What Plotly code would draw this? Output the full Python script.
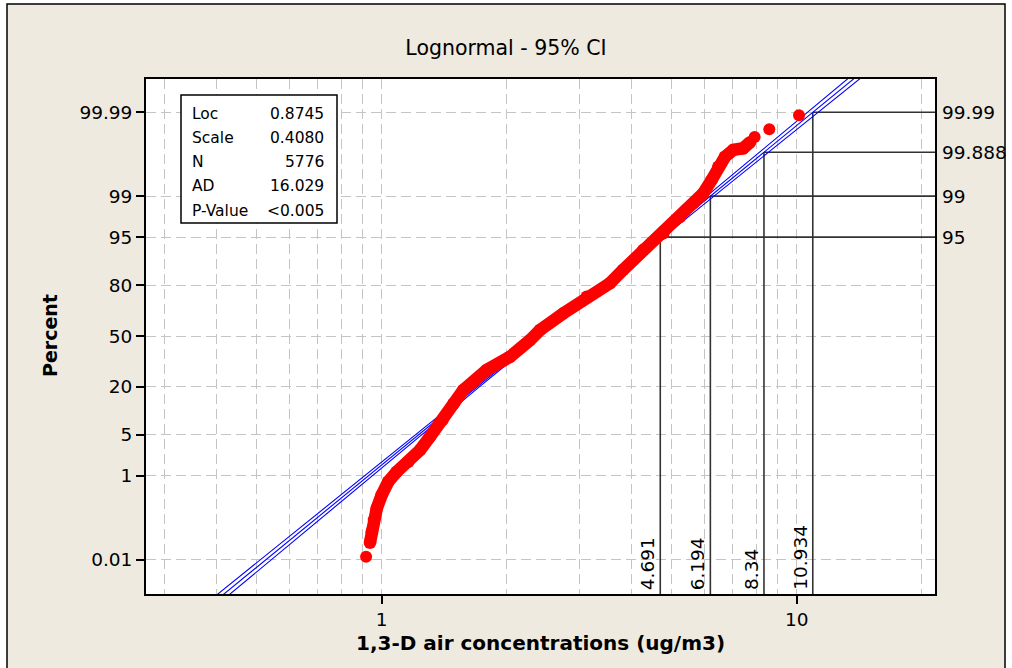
import math
from statistics import NormalDist
import plotly.graph_objects as go

# ---------------- data ----------------
stat_labels = ["Loc", "Scale", "N", "AD", "P-Value"]
stat_values = ["0.8745", "0.4080", "5776", "16.029", "<0.005"]

# observed data (dense band of overlapping points): percent, concentration
band_pct = [0.0294, 0.057, 0.111, 0.209, 0.411, 0.772, 1.20, 1.83, 2.90, 4.71,
            8.1, 13.0, 18.5, 28.6, 36.5, 47.3, 54.0, 64.7, 74.3, 81.0,
            86.4, 92.4, 95.6, 97.6, 98.63, 99.12, 99.53, 99.756, 99.856, 99.901,
            99.910, 99.936]
band_x = [0.937, 0.946, 0.958, 0.973, 1.000, 1.037, 1.087, 1.159, 1.237, 1.307,
          1.400, 1.490, 1.573, 1.791, 2.038, 2.277, 2.407, 2.739, 3.119, 3.549,
          3.815, 4.270, 4.771, 5.234, 5.633, 5.955, 6.240, 6.473, 6.718, 7.036,
          7.434, 7.718]
# isolated extreme observations
iso_pct = [0.0121, 99.953, 99.9706, 99.9879]
iso_x = [0.917, 7.92, 8.59, 10.13]

# fitted lognormal line and 95% confidence bounds
fit_pct = [0.0005, 0.01, 0.1, 1, 5, 20, 50, 80, 95, 99, 99.9, 99.99, 99.9995]
fit_x = [0.3955, 0.5258, 0.6797, 0.9282, 1.2255, 1.7008, 2.3977, 3.380, 4.691,
         6.194, 8.459, 10.934, 14.536]
ci_lo = [0.3821, 0.5105, 0.6627, 0.9096, 1.2059, 1.6801, 2.3726, 3.3389, 4.6159,
         6.0698, 8.2478, 10.615, 14.043]
ci_hi = [0.4094, 0.5416, 0.6971, 0.9472, 1.2454, 1.7218, 2.4231, 3.4216, 4.7673,
         6.3207, 8.6758, 11.263, 15.046]

# reference percentiles
ref_pct = [95, 99, 99.888, 99.99]
ref_x = [4.691, 6.194, 8.34, 10.934]
ref_pct_text = ["95", "99", "99.888", "99.99"]
ref_x_text = ["4.691", "6.194", "8.34", "10.934"]

y_tick_pct = [0.01, 1, 5, 20, 50, 80, 95, 99, 99.99]
y_tick_text = ["0.01", "1", "5", "20", "50", "80", "95", "99", "99.99"]
x_tick_vals = [1, 10]
x_minor_vals = [0.3, 0.4, 0.5, 0.6, 0.7, 0.8, 0.9, 2, 3, 4, 5, 6, 7, 8, 9, 20]

# ---------------- helpers ----------------
nd = NormalDist()


def probit(p):
    return nd.inv_cdf(p / 100.0)


FONT = "DejaVu Sans"
BEIGE = "#EEEAE0"
GRID = "#C4C4C4"
XR = [-0.568, 1.3333]
YR = [-4.289, 4.273]

fig = go.Figure()

# reference (percentile) lines
rx, ry = [], []
for p, xv in zip(ref_pct, ref_x):
    z = probit(p)
    rx += [xv, 10 ** XR[1], None, xv, xv, None]
    ry += [z, z, None, z, YR[0], None]
fig.add_trace(go.Scatter(x=rx, y=ry, mode="lines",
                         line=dict(color="#333333", width=1.6),
                         hoverinfo="skip", showlegend=False))

# fit + CI
for arr in (ci_lo, fit_x, ci_hi):
    fig.add_trace(go.Scatter(x=arr, y=[probit(p) for p in fit_pct], mode="lines",
                             line=dict(color="#0000FF", width=1.1),
                             showlegend=False))

# observed band (drawn over the fit lines)
fig.add_trace(go.Scatter(x=band_x, y=[probit(p) for p in band_pct],
                         mode="lines+markers",
                         line=dict(color="#FF0000", width=12.5),
                         marker=dict(color="#FF0000", size=12.5),
                         showlegend=False))
fig.add_trace(go.Scatter(x=iso_x, y=[probit(p) for p in iso_pct],
                         mode="markers",
                         marker=dict(color="#FF0000", size=12),
                         showlegend=False))

L, R, T, B = 146, 77, 79, 74
W, H = 1012, 668
pw, ph = W - L - R, H - T - B


def px_x(x):
    return (x - L) / pw


def px_y(y):
    return (H - B - y) / ph


shapes = [
    dict(type="rect", xref="paper", yref="paper",
         x0=px_x(7), x1=px_x(1005), y0=px_y(700), y1=px_y(4),
         fillcolor=BEIGE, line=dict(color="black", width=1.5), layer="below"),
    dict(type="rect", xref="paper", yref="paper", x0=0, x1=1, y0=0, y1=1,
         fillcolor="white", line=dict(width=0), layer="below"),
    dict(type="rect", xref="paper", yref="paper",
         x0=px_x(181), x1=px_x(337), y0=px_y(223), y1=px_y(95),
         fillcolor="white", line=dict(color="black", width=1.5), layer="above"),
]

ann = []
row_y = [113.5, 137.8, 162.1, 186.4, 210.7]
for lab, val, yy in zip(stat_labels, stat_values, row_y):
    ann.append(dict(xref="paper", yref="paper", x=px_x(190), y=px_y(yy),
                    text=lab, showarrow=False, xanchor="left", yanchor="middle",
                    font=dict(family=FONT, size=15.5, color="black")))
    ann.append(dict(xref="paper", yref="paper", x=px_x(326), y=px_y(yy),
                    text=val, showarrow=False, xanchor="right", yanchor="middle",
                    font=dict(family=FONT, size=15.5, color="black")))

for p, t in zip(ref_pct, ref_pct_text):
    ann.append(dict(xref="paper", yref="y", x=1, y=probit(p), text=t,
                    showarrow=False, xanchor="left", yanchor="middle", xshift=5,
                    font=dict(family=FONT, size=18.5, color="black")))
for xv, t in zip(ref_x, ref_x_text):
    ann.append(dict(xref="x", yref="y", x=math.log10(xv), y=YR[0], text=t,
                    showarrow=False, xanchor="right", yanchor="bottom",
                    textangle=-90, xshift=0, yshift=2,
                    font=dict(family=FONT, size=18.5, color="black")))

ann.append(dict(xref="paper", yref="paper", x=0.5, y=px_y(643),
                text="<b>1,3-D air concentrations (ug/m3)</b>", showarrow=False,
                xanchor="center", yanchor="middle",
                font=dict(family=FONT, size=20, color="black")))
ann.append(dict(xref="paper", yref="paper", x=px_x(50), y=px_y(336),
                text="<b>Percent</b>", showarrow=False, textangle=-90,
                xanchor="center", yanchor="middle",
                font=dict(family=FONT, size=19, color="black")))

fig.update_layout(
    width=W, height=H,
    margin=dict(l=L, r=R, t=T, b=B),
    paper_bgcolor="white", plot_bgcolor="white",
    title=dict(text="Lognormal - 95% CI", x=0.5, xref="container", xanchor="center",
               y=1 - 48 / H, yref="container", yanchor="middle",
               font=dict(family=FONT, size=20.5, color="black")),
    shapes=shapes, annotations=ann, showlegend=False,
    xaxis=dict(type="log", range=XR, tickmode="array", tickvals=x_tick_vals,
               ticktext=["1", "10"], ticks="outside", ticklen=8, tickwidth=1.5,
               tickcolor="black", showline=True, linecolor="black", linewidth=1.8,
               mirror=True, showgrid=True, gridcolor=GRID, gridwidth=1.4,
               griddash="10px,5px", zeroline=False,
               tickfont=dict(family=FONT, size=18.5, color="black"),
               minor=dict(tickmode="array", tickvals=x_minor_vals, showgrid=True,
                          gridcolor=GRID, gridwidth=1.4, griddash="10px,5px",
                          ticks="")),
    yaxis=dict(range=YR, tickmode="array",
               tickvals=[probit(p) for p in y_tick_pct], ticktext=y_tick_text,
               ticks="outside", ticklen=8, tickwidth=1.5, tickcolor="black",
               showline=True, linecolor="black", linewidth=1.8, mirror=True,
               showgrid=True, gridcolor=GRID, gridwidth=1.4, griddash="10px,5px",
               zeroline=False, tickfont=dict(family=FONT, size=18.5, color="black")),
)

fig.write_html("out.html", config={"displayModeBar": False},
               post_script="document.body.style.margin='0px';")
